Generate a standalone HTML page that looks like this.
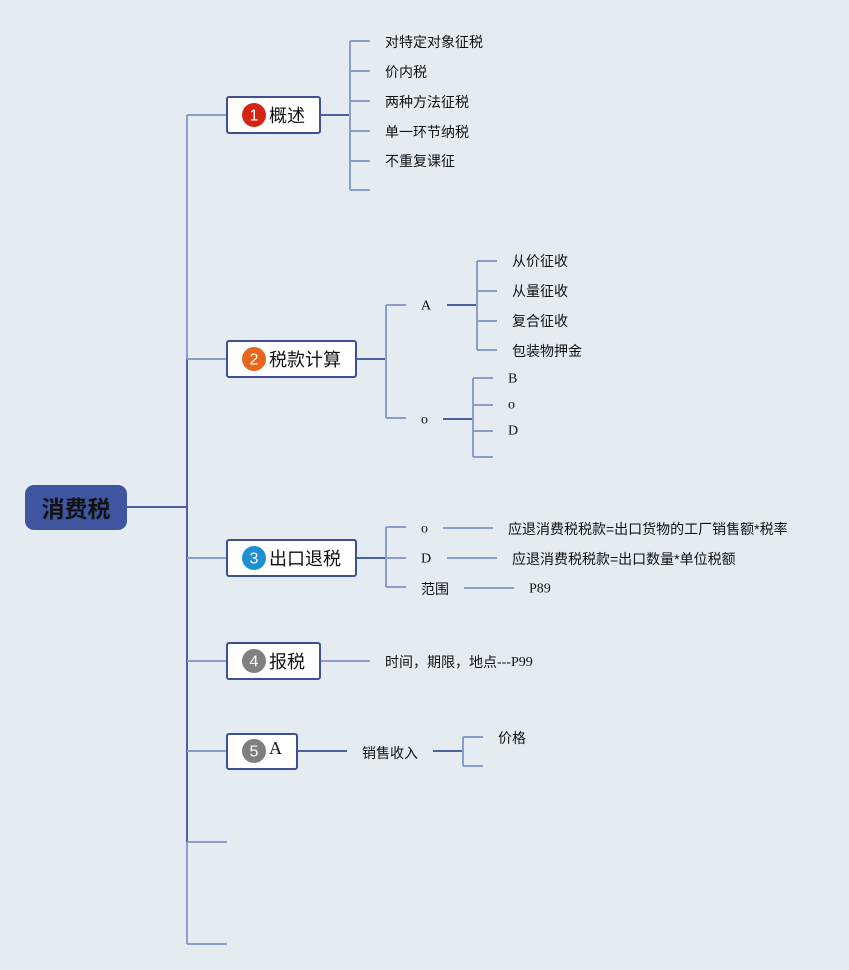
<!DOCTYPE html>
<html><head><meta charset="utf-8"><style>
html,body{margin:0;padding:0;background:#e4ecf2;}
svg{display:block;}
.cj{font-family:"Liberation Sans","Noto Sans CJK SC",sans-serif;fill:#111;}
.sr{font-family:"Liberation Serif","Noto Serif CJK SC",serif;fill:#111;}
</style></head><body>
<svg width="849" height="970" viewBox="0 0 849 970" xmlns="http://www.w3.org/2000/svg">
<rect width="849" height="970" fill="#e4ecf2"/>
<g fill="none" stroke-width="2">
<!-- trunk -->
<path d="M187 115V359" stroke="#8d9cc8"/>
<path d="M187 359V842" stroke="#4e5fa2"/>
<path d="M187 842V944" stroke="#8d9cc8"/>
<path d="M127 507H187" stroke="#4e5fa2"/>
<path d="M187 115H226M187 359H226M187 558H226M187 661H226M187 751H226" stroke="#8d9cc8"/>
<path d="M187 842H227M187 944H227" stroke="#8d9cc8"/>
<!-- 概述 children -->
<path d="M320 115H350" stroke="#4e5fa2"/>
<path d="M350 41V190M350 41H370M350 71H370M350 101H370M350 131H370M350 161H370M350 190H370" stroke="#8d9cc8"/>
<!-- 税款计算 -->
<path d="M356 359H386" stroke="#4e5fa2"/>
<path d="M386 305V418M386 305H406M386 418H406" stroke="#8d9cc8"/>
<path d="M447 305H477M443 419H473" stroke="#4e5fa2"/>
<path d="M477 261V350M477 261H497M477 291H497M477 321H497M477 350H497" stroke="#8d9cc8"/>
<path d="M473 378V457M473 378H493M473 405H493M473 431H493M473 457H493" stroke="#8d9cc8"/>
<!-- 出口退税 -->
<path d="M356 558H386" stroke="#4e5fa2"/>
<path d="M386 527V587M386 527H406M386 558H406M386 587H406" stroke="#8d9cc8"/>
<path d="M443 528H493M447 558H497M464 588H514" stroke="#8d9cc8"/>
<!-- 报税 -->
<path d="M320 661H370" stroke="#8d9cc8"/>
<!-- 5 A -->
<path d="M297 751H347" stroke="#4e5fa2"/>
<path d="M433 751H463" stroke="#4e5fa2"/>
<path d="M463 737V766M463 737H483M463 766H483" stroke="#8d9cc8"/>
</g>
<!-- root -->
<rect x="25" y="485" width="102" height="45" rx="9" fill="#3f55a0"/>
<text x="76" y="509" class="cj" font-size="23" font-weight="bold" text-anchor="middle" dominant-baseline="central">消费税</text>
<!-- main nodes -->
<g fill="#fff" stroke="#3f4f8f" stroke-width="2">
<rect x="227" y="97" width="93" height="36" rx="2"/>
<rect x="227" y="341" width="129" height="36" rx="2"/>
<rect x="227" y="540" width="129" height="36" rx="2"/>
<rect x="227" y="643" width="93" height="36" rx="2"/>
<rect x="227" y="734" width="70" height="35" rx="2"/>
</g>
<circle cx="254" cy="115" r="12" fill="#d42512"/>
<circle cx="254" cy="359" r="12" fill="#e6661c"/>
<circle cx="254" cy="558" r="12" fill="#1f8fd4"/>
<circle cx="254" cy="661" r="12" fill="#808080"/>
<circle cx="254" cy="751" r="12" fill="#7f7f7f"/>
<g font-family="Liberation Sans,sans-serif" font-size="16" fill="#fff" text-anchor="middle" dominant-baseline="central">
<text x="254" y="116">1</text><text x="254" y="360">2</text><text x="254" y="559">3</text><text x="254" y="662">4</text><text x="254" y="752">5</text>
</g>
<g font-size="18" dominant-baseline="central">
<text x="269" y="116" class="cj">概述</text>
<text x="269" y="360" class="cj">税款计算</text>
<text x="269" y="559" class="cj">出口退税</text>
<text x="269" y="662" class="cj">报税</text>
<text x="269" y="748" class="sr">A</text>
</g>
<g font-size="14" dominant-baseline="central">
<text x="385" y="42" class="cj">对特定对象征税</text>
<text x="385" y="72" class="cj">价内税</text>
<text x="385" y="102" class="cj">两种方法征税</text>
<text x="385" y="132" class="cj">单一环节纳税</text>
<text x="385" y="161" class="cj">不重复课征</text>
<text x="421" y="306" class="sr">A</text>
<text x="512" y="261" class="cj">从价征收</text>
<text x="512" y="291" class="cj">从量征收</text>
<text x="512" y="321" class="cj">复合征收</text>
<text x="512" y="351" class="cj">包装物押金</text>
<text x="421" y="420" class="sr">o</text>
<text x="508" y="379" class="sr">B</text>
<text x="508" y="405" class="sr">o</text>
<text x="508" y="431" class="sr">D</text>
<text x="421" y="529" class="sr">o</text>
<text x="508" y="529" class="cj">应退消费税税款=出口货物的工厂销售额*税率</text>
<text x="421" y="559" class="sr">D</text>
<text x="512" y="559" class="cj">应退消费税税款=出口数量*单位税额</text>
<text x="421" y="589" class="cj">范围</text>
<text x="529" y="589" class="sr">P89</text>
<text x="385" y="662" class="cj">时间，期限，地点<tspan font-family="Liberation Serif,serif">---P99</tspan></text>
<text x="362" y="753" class="cj">销售收入</text>
<text x="498" y="738" class="cj">价格</text>
</g>
</svg>
</body></html>
